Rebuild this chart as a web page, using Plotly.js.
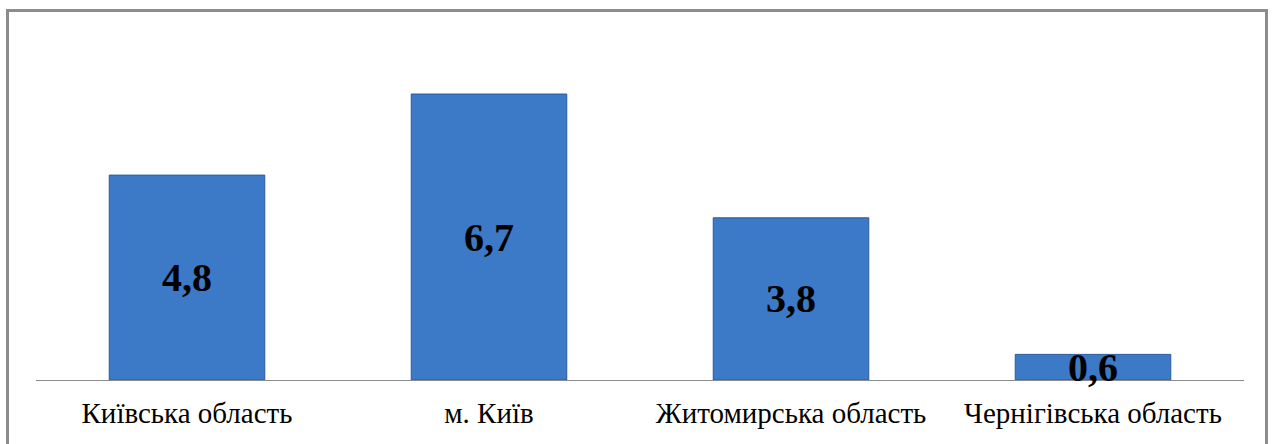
<!DOCTYPE html>
<html><head><meta charset="utf-8">
<script src="https://cdn.plot.ly/plotly-3.0.1.min.js"></script>
<style>
body{margin:0;padding:0;background:#fff;}
#wrap{position:relative;width:1272px;height:444px;}
#chart{position:absolute;left:0;top:0;width:1272px;height:444px;}
#frame{position:absolute;left:6px;top:9px;width:1262px;height:450px;border:3px solid #8c8c8c;box-sizing:border-box;pointer-events:none;}
</style></head>
<body><div id="wrap"><div id="chart"></div><div id="frame"></div></div>
<script>
const categories = ["Київська область", "м. Київ", "Житомирська область", "Чернігівська область"];
const values = [4.8, 6.7, 3.8, 0.6];
const labels = ["4,8", "6,7", "3,8", "0,6"];

const trace = {
  type: 'bar', x: categories, y: values,
  marker: {color: '#3c79c7', line: {color: '#2a5a9a', width: 1}},
  width: 0.515, hoverinfo: 'none'
};
const annotations = categories.map((c, i) => ({
  x: c, y: values[i] / 2, xref: 'x', yref: 'y', text: labels[i], showarrow: false,
  font: {family: 'Liberation Serif, Times New Roman, serif', size: 40, color: '#000', weight: 'bold'}
}));
const layout = {
  width: 1272, height: 444,
  margin: {l: 36, r: 28, t: 30, b: 64},
  paper_bgcolor: '#fff', plot_bgcolor: '#fff',
  showlegend: false,
  xaxis: {showline: true, linecolor: '#8c8c8c', linewidth: 1, ticks: '', showgrid: false,
    tickfont: {family: 'Liberation Serif, Times New Roman, serif', size: 29, color: '#000'}, ticklabelstandoff: 7},
  yaxis: {range: [0, 8.2], visible: false, showgrid: false, zeroline: false},
  annotations: annotations
};
Plotly.newPlot('chart', [trace], layout, {displayModeBar: false, staticPlot: true});
</script></body></html>
